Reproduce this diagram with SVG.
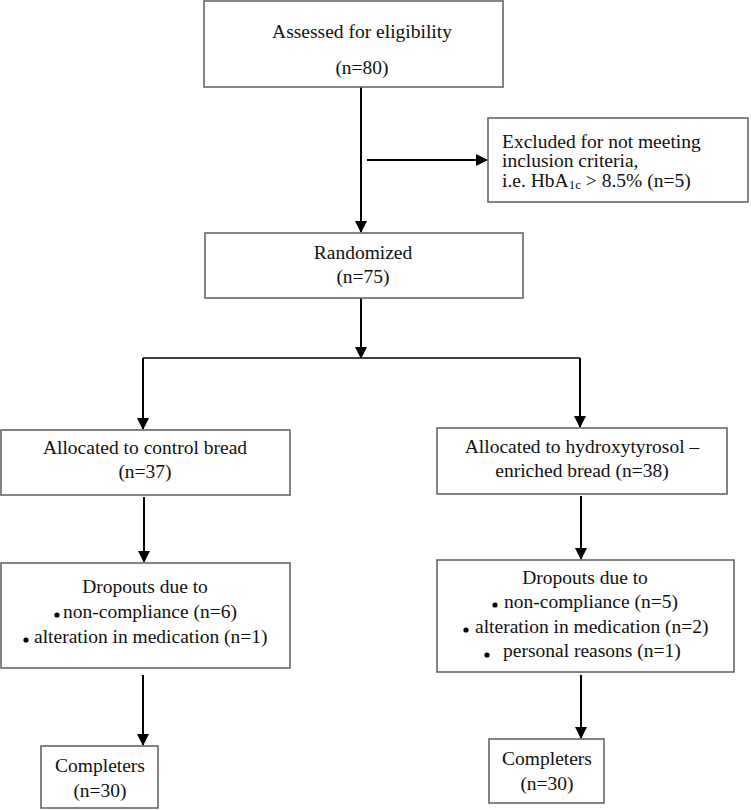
<svg xmlns="http://www.w3.org/2000/svg" width="751" height="810" viewBox="0 0 751 810">
<defs>
<style>
.box{fill:#fff;stroke:#666;stroke-width:1.6}
.t{font-family:"Liberation Serif","Times New Roman","DejaVu Serif",serif;font-size:19.5px;fill:#111}
.c{text-anchor:middle}
.ln{stroke:#000;stroke-width:2;fill:none}
.b{fill:#000}
</style>
<marker id="ah" markerWidth="12" markerHeight="12" viewBox="0 0 12 12" refX="11" refY="6" orient="auto" markerUnits="userSpaceOnUse">
<path d="M0,0 L12,6 L0,12 z" fill="#000"/>
</marker>
</defs>
<rect width="751" height="810" fill="#fff"/>
<g id="connectors">
<line class="ln" x1="361" y1="87" x2="361" y2="232" marker-end="url(#ah)"/>
<line class="ln" x1="367" y1="160" x2="487" y2="160" marker-end="url(#ah)"/>
<line class="ln" x1="361" y1="298" x2="361" y2="358" marker-end="url(#ah)"/>
<line class="ln" x1="143" y1="358" x2="580" y2="358" style="stroke-width:1.5"/>
<line class="ln" x1="143" y1="358" x2="143" y2="429" marker-end="url(#ah)"/>
<line class="ln" x1="580" y1="358" x2="580" y2="427" marker-end="url(#ah)"/>
<line class="ln" x1="144" y1="497" x2="144" y2="562" marker-end="url(#ah)"/>
<line class="ln" x1="581" y1="496" x2="581" y2="559" marker-end="url(#ah)"/>
<line class="ln" x1="143" y1="675" x2="143" y2="745" marker-end="url(#ah)"/>
<line class="ln" x1="581" y1="675" x2="581" y2="738" marker-end="url(#ah)"/>
</g>
<g id="assessed">
<rect class="box" x="204" y="1" width="299" height="86"/>
<text class="t c" x="362" y="38">Assessed for eligibility</text>
<text class="t c" x="362" y="74">(n=80)</text>
</g>
<g id="excluded">
<rect class="box" x="488" y="118" width="260" height="84"/>
<text class="t" x="502" y="148">Excluded for not meeting</text>
<text class="t" x="502" y="167">inclusion criteria,</text>
<text class="t" x="502" y="187">i.e. HbA<tspan font-size="13" dy="2">1c</tspan><tspan dy="-2"> &gt; 8.5% (n=5)</tspan></text>
</g>
<g id="randomized">
<rect class="box" x="205" y="233" width="318" height="65"/>
<text class="t c" x="363" y="259">Randomized</text>
<text class="t c" x="363" y="283">(n=75)</text>
</g>
<g id="alloc-control">
<rect class="box" x="1" y="430" width="289" height="65"/>
<text class="t c" x="145" y="454">Allocated to control bread</text>
<text class="t c" x="145" y="478">(n=37)</text>
</g>
<g id="alloc-ht">
<rect class="box" x="437" y="428" width="290" height="66"/>
<text class="t c" x="582" y="453">Allocated to hydroxytyrosol –</text>
<text class="t c" x="582" y="477">enriched bread (n=38)</text>
</g>
<g id="dropouts-control">
<rect class="box" x="1" y="563" width="289" height="105"/>
<text class="t c" x="145" y="593">Dropouts due to</text>
<circle class="b" cx="57" cy="615" r="2.6"/>
<text class="t" x="63" y="618">non-compliance (n=6)</text>
<circle class="b" cx="26" cy="640" r="2.6"/>
<text class="t" x="34" y="643">alteration in medication (n=1)</text>
</g>
<g id="dropouts-ht">
<rect class="box" x="437" y="560" width="297" height="112"/>
<text class="t c" x="585" y="584">Dropouts due to</text>
<circle class="b" cx="495" cy="605" r="2.6"/>
<text class="t" x="504" y="608">non-compliance (n=5)</text>
<circle class="b" cx="466" cy="630" r="2.6"/>
<text class="t" x="475" y="633">alteration in medication (n=2)</text>
<circle class="b" cx="487" cy="655" r="2.6"/>
<text class="t" x="503" y="657">personal reasons (n=1)</text>
</g>
<g id="completers-control">
<rect class="box" x="41" y="746" width="117" height="62"/>
<text class="t c" x="100" y="772">Completers</text>
<text class="t c" x="100" y="797">(n=30)</text>
</g>
<g id="completers-ht">
<rect class="box" x="489" y="739" width="115" height="64"/>
<text class="t c" x="547" y="765">Completers</text>
<text class="t c" x="547" y="790">(n=30)</text>
</g>
</svg>
